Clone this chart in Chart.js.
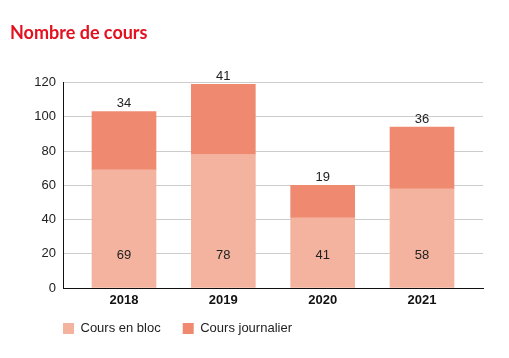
<!DOCTYPE html>
<html>
<head>
<meta charset="utf-8">
<script src="https://cdn.jsdelivr.net/npm/chart.js@4"></script>
<style>
  html, body { margin: 0; padding: 0; background: #fff; }
  #wrap { width: 509px; height: 358px; }
</style>
</head>
<body>
<div id="wrap"><canvas id="chart" width="509" height="358"></canvas></div>
<script>
const years = ['2018', '2019', '2020', '2021'];
const coursBloc = [69, 78, 41, 58];
const coursJournalier = [34, 41, 19, 36];
const yTicks = [0, 20, 40, 60, 80, 100, 120];

const colorBloc = '#f4b39f';
const colorJour = '#ef8a71';
const textFont = "'Liberation Sans', Arial, sans-serif";

// values written on the bars
const valueLabels = {
    id: 'valueLabels',
    afterDatasetsDraw(chart) {
        const ctx = chart.ctx;
        const yScale = chart.scales.y;
        ctx.save();
        ctx.font = '13px ' + textFont;
        ctx.fillStyle = '#222';
        ctx.textAlign = 'center';
        ctx.textBaseline = 'middle';
        chart.data.datasets.forEach((ds, di) => {
            chart.getDatasetMeta(di).data.forEach((bar, i) => {
                const v = ds.data[i].y;
                const y = di === 0 ? yScale.bottom - 33 : bar.y - 8;
                ctx.fillText(String(v), bar.x, y);
            });
        });
        ctx.restore();
    }
};

// put the legend under the plot, lined up with the y axis
const legendPlace = {
    id: 'legendPlace',
    afterLayout(chart) {
        const lg = chart.legend;
        const pad = lg.options.labels.padding;
        const dx = chart.chartArea.left - pad - lg.left;
        lg.left += dx;
        lg.right += dx;
        const dy = 300 - lg.top;
        lg.top += dy;
        lg.bottom += dy;
    }
};

new Chart(document.getElementById('chart'), {
    type: 'bar',
    data: {
        datasets: [
            {
                label: 'Cours en bloc',
                data: coursBloc.map((v, i) => ({ x: i, y: v })),
                backgroundColor: colorBloc,
                borderWidth: 0,
                barThickness: 64
            },
            {
                label: 'Cours journalier',
                data: coursJournalier.map((v, i) => ({ x: i, y: v })),
                backgroundColor: colorJour,
                borderWidth: 0,
                barThickness: 64
            }
        ]
    },
    options: {
        responsive: false,
        animation: false,
        layout: { padding: { left: 10, right: 26, top: 0, bottom: 0 } },
        scales: {
            x: {
                type: 'linear',
                stacked: true,
                offset: false,
                min: -0.614,
                max: 3.614,
                grid: { display: false, offset: false },
                border: { display: true, color: '#111', width: 1 },
                afterFit(s) { s.height = 30; },
                ticks: {
                    stepSize: 1,
                    includeBounds: false,
                    padding: -3,
                    color: '#111',
                    font: { family: textFont, size: 13, weight: 'bold' },
                    callback: v => years[v] ?? ''
                }
            },
            y: {
                stacked: true,
                min: 0,
                max: 120,
                afterFit(s) { s.width = 53; },
                afterBuildTicks(s) { s.ticks = yTicks.map(v => ({ value: v })); },
                grid: { color: '#cccccc', lineWidth: 1, drawTicks: false },
                border: { display: true, color: '#111', width: 1 },
                ticks: {
                    padding: 7,
                    color: '#222',
                    font: { family: textFont, size: 13 }
                }
            }
        },
        plugins: {
            title: {
                display: true,
                text: 'Nombre de cours',
                align: 'start',
                color: '#e3101f',
                font: { family: 'Lato, sans-serif', size: 18, weight: 'bold' },
                padding: { top: 22, bottom: 39 }
            },
            legend: {
                position: 'bottom',
                align: 'start',
                maxHeight: 40,
                labels: {
                    boxWidth: 11,
                    boxHeight: 11,
                    padding: 22,
                    color: '#222',
                    font: { family: textFont, size: 13 }
                }
            },
            tooltip: { enabled: false }
        }
    },
    plugins: [valueLabels, legendPlace]
});
</script>
</body>
</html>
